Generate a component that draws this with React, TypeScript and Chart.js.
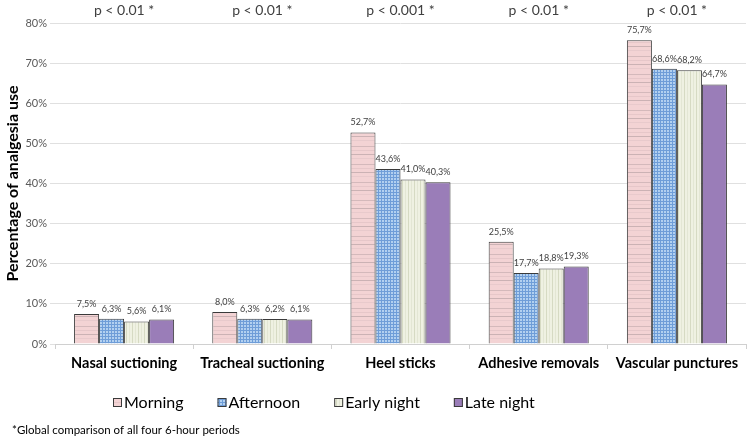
import React, { useEffect, useRef } from "react";
import { Chart, registerables } from "chart.js";

Chart.register(...registerables);

const categories = ["Nasal suctioning", "Tracheal suctioning", "Heel sticks", "Adhesive removals", "Vascular punctures"];
const pValues = ["p < 0.01 *", "p < 0.01 *", "p < 0.001 *", "p < 0.01 *", "p < 0.01 *"];
const seriesNames = ["Morning", "Afternoon", "Early night", "Late night"];
const morning = [7.5, 8.0, 52.7, 25.5, 75.7];
const afternoon = [6.3, 6.3, 43.6, 17.7, 68.6];
const earlyNight = [5.6, 6.2, 41.0, 18.8, 68.2];
const lateNight = [6.1, 6.1, 40.3, 19.3, 64.7];
const yTicks = [0, 10, 20, 30, 40, 50, 60, 70, 80];
const footnote = "*Global comparison of all four 6-hour periods";
const yTitle = "Percentage of analgesia use";

const FONT = "Lato, 'DejaVu Sans', sans-serif";

function makePattern(kind: string): CanvasPattern | string {
  const c = document.createElement("canvas");
  const g = c.getContext("2d")!;
  if (kind === "morning") {
    c.width = 8; c.height = 18;
    g.fillStyle = "#f3d3d4"; g.fillRect(0, 0, 8, 18);
    g.fillStyle = "#d4b9bb"; g.fillRect(0, 2, 8, 1);
    g.fillStyle = "#e6c7c9"; g.fillRect(0, 6, 8, 1);
    g.fillStyle = "#cbb2b4"; g.fillRect(0, 10, 8, 1);
    g.fillStyle = "#e8cacc"; g.fillRect(0, 14, 8, 1);
  } else if (kind === "afternoon") {
    c.width = 3; c.height = 3;
    g.fillStyle = "#b2d0f0"; g.fillRect(0, 0, 3, 3);
    g.fillStyle = "#6e9dd8"; g.fillRect(0, 0, 3, 1); g.fillRect(0, 0, 1, 3);
  } else if (kind === "early") {
    c.width = 6; c.height = 4;
    g.fillStyle = "#eff1e2"; g.fillRect(0, 0, 6, 4);
    g.fillStyle = "#d6dac3"; g.fillRect(0, 0, 1, 4);
    g.fillStyle = "#e3e6d4"; g.fillRect(3, 0, 1, 4);
  } else {
    return "#9a7db8";
  }
  return g.createPattern(c, "repeat")!;
}

export default function App() {
  const ref = useRef<HTMLCanvasElement>(null);
  useEffect(() => {
    const canvas = ref.current!;
    const fills = [makePattern("morning"), makePattern("afternoon"), makePattern("early"), makePattern("late")];
    const values = [morning, afternoon, earlyNight, lateNight];

    const overlay = {
      id: "overlay",
      afterDatasetsDraw(chart: any) {
        const ctx = chart.ctx;
        ctx.save();
        // value labels
        ctx.font = `9px ${FONT}`;
        ctx.fillStyle = "#404040";
        ctx.textAlign = "center";
        ctx.textBaseline = "middle";
        chart.data.datasets.forEach((ds: any, di: number) => {
          const meta = chart.getDatasetMeta(di);
          meta.data.forEach((bar: any, i: number) => {
            const v = ds.data[i] as number;
            ctx.fillText(v.toFixed(1).replace(".", ",") + "%", bar.x, bar.y - 10);
          });
        });
        // p-values
        const xs = chart.scales.x;
        ctx.font = `14px ${FONT}`;
        ctx.fillStyle = "#404040";
        pValues.forEach((p, i) => {
          ctx.fillText(p, xs.getPixelForValue(i), 10);
        });
        // legend
        ctx.font = `16px ${FONT}`;
        ctx.textAlign = "left";
        ctx.fillStyle = "#000";
        let x = 113;
        const ly = 403;
        seriesNames.forEach((name, i) => {
          ctx.fillStyle = fills[i] as any;
          ctx.fillRect(x, ly - 5, 9, 9);
          ctx.strokeStyle = "#3a3a3a";
          ctx.lineWidth = 1;
          ctx.strokeRect(x + 0.5, ly - 4.5, 8, 8);
          ctx.fillStyle = "#000";
          ctx.fillText(name, x + 11, ly);
          x += 11 + ctx.measureText(name).width + 34;
        });
        // footnote
        ctx.font = `11.5px ${FONT}`;
        ctx.fillStyle = "#000";
        ctx.fillText(footnote, 12, 430);
        ctx.restore();
      },
    };

    const chart = new Chart(canvas, {
      type: "bar",
      data: {
        labels: categories,
        datasets: seriesNames.map((name, i) => ({
          label: name,
          data: values[i],
          backgroundColor: fills[i] as any,
          borderColor: "#3a3a3a",
          borderWidth: 1,
          categoryPercentage: 0.724,
          barPercentage: 1.0,
        })),
      },
      options: {
        responsive: false,
        animation: false,
        devicePixelRatio: 1,
        layout: { padding: { top: 23, right: 4, left: 0, bottom: 0 } },
        plugins: { legend: { display: false }, tooltip: { enabled: false } },
        scales: {
          x: {
            grid: { offset: true, drawOnChartArea: false, drawTicks: true, tickLength: 5, color: "#d0d0d0" },
            border: { color: "#d0d0d0" },
            ticks: { font: { family: FONT, size: 14.5, weight: "bold" }, color: "#000", padding: 6, maxRotation: 0 },
            afterFit: (s: any) => { s.height = 94; },
          },
          y: {
            min: 0,
            max: 80,
            afterBuildTicks: (s: any) => { s.ticks = yTicks.map((v) => ({ value: v })); },
            ticks: { font: { family: FONT, size: 11 }, color: "#595959", padding: 3, callback: (v: any) => v + "%" },
            grid: { color: "#e0e0e0", tickLength: 5 },
            border: { display: false },
            title: { display: true, text: yTitle, font: { family: FONT, size: 16, weight: "bold" }, color: "#000", padding: { top: 3, bottom: 4 } },
            afterFit: (s: any) => { s.width = 55; },
          },
        },
      },
      plugins: [overlay],
    });
    return () => chart.destroy();
  }, []);
  return (
    <div style={{ position: "fixed", left: 0, top: 0, width: 750, height: 438, background: "#fff" }}>
      <canvas ref={ref} width={750} height={438} style={{ display: "block" }} />
    </div>
  );
}
